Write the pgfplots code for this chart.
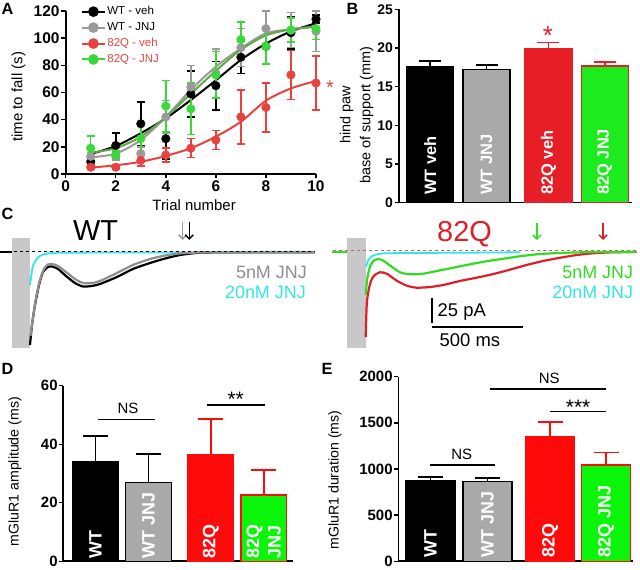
\documentclass[border=0pt]{standalone}
\usepackage{fontspec}
\setmainfont{Liberation Sans}
\usepackage{pgfplots}
\pgfplotsset{compat=1.18}
\usetikzlibrary{arrows.meta}

\definecolor{aRed}{HTML}{E8423F}
\definecolor{aGreen}{HTML}{3AD93A}
\definecolor{aGreenFit}{HTML}{5FA845}
\definecolor{aGray}{HTML}{9A9A9A}
\definecolor{barGray}{HTML}{A9A9A9}
\definecolor{bRed}{HTML}{E81E26}
\definecolor{bGreen}{HTML}{1EEB1E}
\definecolor{dRed}{HTML}{FF0A0A}
\definecolor{dGreen}{HTML}{0AF50A}
\definecolor{trCyan}{HTML}{30E6E6}
\definecolor{trGray}{HTML}{8E8E8E}
\definecolor{trRed}{HTML}{DD2027}
\definecolor{trGreen}{HTML}{30DD20}
\definecolor{artGray}{HTML}{C8C8C8}
\definecolor{dashRed}{HTML}{B07070}

\newcommand{\fs}[1]{\fontsize{#1}{#1}\selectfont}

\pgfplotsset{
  panel/.style={
    scale only axis, clip=false,
    axis x line*=bottom, axis y line*=left,
    axis line style={line width=1.6bp, -},
    major tick style={line width=1.4bp, black},
    tick align=outside, major tick length=4.5bp,
    tick label style={font=\fs{15.5}\bfseries},
    yticklabel style={inner sep=1.5pt},
    xticklabel style={inner sep=2pt},
    /pgf/number format/assume math mode=true,
    /pgf/number format/set thousands separator={},
    label style={font=\fs{15}},
  },
  barpanel/.style={panel, xtick=\empty, ybar, bar shift=0pt, ymin=0},
  eb/.style 2 args={error bars/y dir=plus, error bars/y explicit,
    error bars/error bar style={line width=1.8bp, #1},
    error bars/error mark options={rotate=90, line width=1.8bp, mark size=#2, #1}},
  errA/.style={only marks, mark=*, mark size=4.3bp,
    error bars/y dir=both, error bars/y explicit,
    error bars/error bar style={line width=1.5bp},
    error bars/error mark options={rotate=90, line width=1.5bp, mark size=4bp}},
  fitA/.style={smooth, no marks, line width=2bp},
  trace/.style={smooth, tension=0.4, no marks, line width=2.2bp},
}

\begin{document}
\begin{tikzpicture}
\useasboundingbox (0,0) rectangle (640bp,570bp);

% ---------------- A ----------------
\begin{axis}[panel, at={(65.7bp,396bp)}, width=250.3bp, height=163bp,
  xmin=0, xmax=10, ymin=0, ymax=120,
  xtick={0,2,...,10}, ytick={0,20,...,120},
  xlabel={Trial number}, ylabel={time to fall (s)},
  xlabel style={at={(axis description cs:0.513,-0.19)}, anchor=center},
  ylabel style={at={(axis description cs:-0.189,0.474)}, anchor=center},
  legend style={at={(0.06,1.04)}, anchor=north west, draw=none, fill=none,
    inner sep=0pt, row sep=2pt, font=\fs{11.5},
    nodes={inner sep=1.5pt, text height=8.5pt, text depth=2.5pt}},
  legend cell align=left,
  legend image code/.code={\draw[mark repeat=2, mark phase=2, #1]
    plot coordinates {(0bp,0bp) (11.5bp,0bp) (23bp,0bp)};},
]
% WT - veh
\addplot[fitA, black, forget plot] coordinates {(1,14.7) (2,20.6) (3,30) (4,41) (5,54.5) (6,69) (7,84) (8,96) (9,105) (10,111)};
\addplot[errA, black, forget plot] coordinates {
  (1,9) +- (0,3) (2,21) +- (0,9) (3,37) +- (0,16) (4,26) +- (0,15) (5,59) +- (0,17)
  (6,65) +- (0,18) (7,86) +- (0,12) (8,94) +- (0,13) (9,104) +- (0,12) (10,114) +- (0,3)};
% WT - JNJ
\addplot[fitA, aGray, forget plot] coordinates {(1,12.3) (2,15) (3,25) (4,42) (5,62) (6,79) (7,92.5) (8,103.5) (9,106.5) (10,108.5)};
\addplot[errA, aGray, forget plot] coordinates {
  (1,13) +- (0,3) (2,13) +- (0,3) (3,15) +- (0,5) (4,42) +- (0,12) (5,64) +- (0,16)
  (6,74) +- (0,18) (7,93) +- (0,14) (8,107) +- (0,13) (9,106) +- (0,13) (10,105) +- (0,15)};
% 82Q - JNJ
\addplot[fitA, aGreenFit, forget plot] coordinates {(1,15.7) (2,19) (3,27.5) (4,42) (5,59) (6,76) (7,91.5) (8,102) (9,106.5) (10,108.5)};
\addplot[errA, aGreen, forget plot] coordinates {
  (1,19) +- (0,9) (2,14) +- (0,3) (3,26) +- (0,11) (4,50) +- (0,19) (5,48) +- (0,19)
  (6,73) +- (0,17) (7,99) +- (0,13) (8,94) +- (0,13) (9,106) +- (0,9) (10,107) +- (0,8)};
% 82Q - veh
\addplot[fitA, aRed, forget plot] coordinates {(1,4.7) (2,6.4) (3,9) (4,13.3) (5,19) (6,27.5) (7,38.5) (8,54) (9,63) (10,68.5)};
\addplot[errA, aRed, forget plot] coordinates {
  (1,5) +- (0,1.5) (2,5) +- (0,1.5) (3,10) +- (0,4) (4,14) +- (0,5) (5,19) +- (0,7)
  (6,25) +- (0,7) (7,42) +- (0,20) (8,49) +- (0,18) (9,73) +- (0,18) (10,67) +- (0,20)};

\addlegendimage{black, line width=2bp, mark=*, mark size=4.3bp}
\addlegendentry{WT - veh}
\addlegendimage{aGray, line width=2bp, mark=*, mark size=4.3bp}
\addlegendentry{WT - JNJ}
\addlegendimage{aRed, line width=2bp, mark=*, mark size=4.3bp}
\addlegendentry{\textcolor{aRed}{82Q - veh}}
\addlegendimage{aGreen, line width=2bp, mark=*, mark size=4.3bp}
\addlegendentry{\textcolor{aRed}{82Q - JNJ}}
\end{axis}

% ---------------- B ----------------
\begin{axis}[barpanel, at={(399bp,367.3bp)}, width=233bp, height=193.4bp,
  xmin=0.444, xmax=4.586, ymax=25, ytick={0,5,...,25},
  tick label style={font=\fs{14}\bfseries},
  bar width=47bp,
  ylabel={hind paw\\base of support (mm)},
  ylabel style={align=center, font=\fontsize{14.5}{20}\selectfont,
    at={(axis description cs:-0.1815,0.453)}, anchor=center},
]
\addplot[fill=black, draw=black, line width=1.3bp, eb={black}{11bp}] coordinates {(1,17.6) +- (0,0.7)};
\addplot[fill=barGray, draw=black, line width=1.3bp, eb={black}{11bp}] coordinates {(2,17.2) +- (0,0.55)};
\addplot[fill=bRed, draw=bRed, line width=1.3bp, eb={bRed}{11bp}] coordinates {(3.1,19.95) +- (0,0.75)};
\addplot[fill=bGreen, draw=bRed, line width=1.3bp, eb={bRed}{11bp}] coordinates {(4.1,17.67) +- (0,0.5)};
\node[rotate=90, anchor=west, text=white, font=\fs{16.5}\bfseries, inner sep=0pt] at (axis cs:1,1) {WT veh};
\node[rotate=90, anchor=west, text=white, font=\fs{16.5}\bfseries, inner sep=0pt] at (axis cs:2,1) {WT JNJ};
\node[rotate=90, anchor=west, text=white, font=\fs{16.5}\bfseries, inner sep=0pt] at (axis cs:3.1,1) {82Q veh};
\node[rotate=90, anchor=west, text=white, font=\fs{16.5}\bfseries, inner sep=0pt] at (axis cs:4.1,1) {82Q JNJ};
\end{axis}

% ---------------- C (left, WT) ----------------
\begin{axis}[hide axis, scale only axis, clip=false, at={(0bp,210bp)},
  width=320bp, height=130bp,
  xmin=-164.8, xmax=1593.4, ymin=-111.17, ymax=22.03]
\fill[artGray] (axis cs:-100.5,14.1) rectangle (axis cs:0,-99.2);
\addplot[trCyan, line width=2bp, no marks] coordinates {(-164.8,-0.7) (-100.5,-0.7)};
\addplot[black, line width=2bp, no marks] coordinates {(-164.8,-0.6) (-100.5,-0.6)};
\addplot[trace, trCyan, line width=1.8bp] coordinates {
  (0,-34.3) (9.3,-22.0) (18.1,-13.8) (36.8,-7.7) (54.9,-4.6) (82.4,-2.6)
  (128,-1.5) (201.6,-1.2) (659,-1.0) (1538,-0.8)};
\addplot[trace, black] coordinates {
  (0,-95.8) (11,-75.3) (27.5,-54.8) (49.5,-34.3) (71.4,-21.0) (98.9,-15.9)
  (120.9,-15.4) (153.8,-17.9) (197.8,-25.1) (247.3,-32.3) (291.2,-35.9)
  (340.7,-35.3) (384.6,-33.3) (478,-26.1) (565.9,-17.9) (659.3,-11.8)
  (741.8,-7.2) (824.2,-3.6) (934.1,-1.2) (1098.9,-0.8) (1565.9,-0.7)};
\addplot[trace, trGray] coordinates {
  (2.7,-86.6) (16.5,-68.1) (33,-47.6) (55,-29.2) (76.9,-17.9) (98.9,-13.3)
  (120.9,-12.8) (153.8,-14.9) (197.8,-21.0) (247.3,-28.2) (291.2,-32.3)
  (340.7,-32.3) (384.6,-30.2) (478,-22.0) (565.9,-13.8) (659.3,-7.7)
  (741.8,-4.1) (824.2,-2.0) (934.1,-1.0) (1098.9,-0.7) (1565.9,-0.5)};
\draw[black, line width=1bp, dash pattern=on 3bp off 3bp] (axis cs:-155.5,0.2) -- (axis cs:1566,0.2);
\draw[aGray, line width=1.5bp, -{Straight Barb[length=4bp,width=8bp]}] (axis cs:839,30.2) -- (axis cs:839,11.8);
\draw[black, line width=1.5bp, -{Straight Barb[length=4bp,width=8bp]}] (axis cs:875,30.2) -- (axis cs:875,11.8);
\end{axis}

% ---------------- C (right, 82Q) ----------------
\begin{axis}[hide axis, scale only axis, clip=false, at={(320bp,210bp)},
  width=320bp, height=130bp,
  xmin=-251.1, xmax=1507.1, ymin=-111.17, ymax=22.03]
\fill[artGray] (axis cs:-104.4,14.1) rectangle (axis cs:0,-99.2);
\addplot[trRed, line width=2bp, no marks] coordinates {(-186.8,-0.6) (-104.4,-0.6)};
\addplot[trGreen, line width=2bp, no marks] coordinates {(-186.8,-0.4) (-104.4,-0.4)};
\addplot[trace, trRed] coordinates {
  (0,-87.6) (5.5,-54.8) (14.3,-41.2) (27.5,-30.9) (45.6,-24.8) (78.6,-21.3)
  (115.4,-22.7) (170.3,-29.9) (225.3,-35.0) (280.2,-37.1) (353.3,-36.4)
  (426.4,-34.3) (518.1,-30.2) (609.9,-26.8) (701.1,-23.1) (792.9,-18.6)
  (884.6,-13.8) (975.8,-9.7) (1067.6,-6.4) (1159.3,-3.6) (1250.5,-1.8)
  (1360.4,-0.8) (1489,-0.5)};
\addplot[trace, trGreen] coordinates {
  (0,-44.6) (8.8,-27.5) (23.6,-15.6) (41.8,-9.7) (69.2,-7.7) (96.7,-9.4)
  (142.9,-15.6) (188.5,-21.3) (243.4,-23.4) (316.5,-22.7) (390.1,-20.0)
  (481.3,-16.6) (573.1,-13.1) (664.8,-10.0) (756,-7.4) (847.8,-4.9)
  (939.6,-2.9) (1030.8,-1.8) (1214.3,-0.7) (1489,-0.4)};
\addplot[trace, trCyan, line width=1.8bp] coordinates {
  (1.6,-15.6) (14.3,-8.7) (33,-4.9) (60.4,-2.9) (115.4,-1.8) (298.4,-1.5)
  (573.1,-1.2) (847.8,-0.8)};
\draw[dashRed, line width=1bp, dash pattern=on 3bp off 3bp] (axis cs:-179,0.8) -- (axis cs:1491,0.8);
\draw[trGreen, line width=1.5bp, -{Straight Barb[length=4bp,width=8bp]}] (axis cs:941,29.2) -- (axis cs:941,11.8);
\draw[trRed, line width=1.5bp, -{Straight Barb[length=4bp,width=8bp]}] (axis cs:1304,29.2) -- (axis cs:1304,11.8);
% scale bar: 25 pA, 500 ms
\draw[black, line width=1.8bp] (axis cs:366,-47.95) -- (axis cs:366,-72.95);
\draw[black, line width=1.8bp] (axis cs:362.6,-77.7) -- (axis cs:862.6,-77.7);
\end{axis}

% ---------------- D ----------------
\begin{axis}[barpanel, at={(63.3bp,8.7bp)}, width=229.7bp, height=175.6bp,
  xmin=0.391, xmax=4.733, ymax=60, ytick={0,20,40,60},
  tick label style={font=\fs{15}\bfseries},
  yticklabel style={inner sep=1pt},
  bar width=45.5bp,
  ylabel={mGluR1 amplitude (ms)},
  ylabel style={font=\fs{14.2}, at={(axis description cs:-0.21,0.51)}, anchor=center},
]
\addplot[fill=black, draw=black, line width=1.3bp, eb={black}{12.5bp}] coordinates {(1,34.1) +- (0,8.7)};
\addplot[fill=barGray, draw=black, line width=1.3bp, eb={black}{12.5bp}] coordinates {(2,27.0) +- (0,9.6)};
\addplot[fill=dRed, draw=dRed, line width=1.3bp, eb={dRed}{12.5bp}] coordinates {(3.18,36.6) +- (0,12.0)};
\addplot[fill=dGreen, draw=dRed, line width=1.3bp, eb={dRed}{12.5bp}] coordinates {(4.18,22.7) +- (0,8.6)};
\node[rotate=90, anchor=west, text=white, font=\fs{18}\bfseries, inner sep=0pt] at (axis cs:1,0.8) {WT};
\node[rotate=90, anchor=west, text=white, font=\fs{18}\bfseries, inner sep=0pt] at (axis cs:2,0.8) {WT JNJ};
\node[rotate=90, anchor=west, text=white, font=\fs{18}\bfseries, inner sep=0pt] at (axis cs:3.18,0.8) {82Q};
\node[rotate=90, anchor=west, text=white, font=\fontsize{18}{21.7}\selectfont\bfseries, inner sep=0pt, align=left] at (axis cs:4.18,0.8) {82Q\\JNJ};
\draw[line width=1.5bp] (axis cs:1.047,48.4) -- (axis cs:2.125,48.4);
\node[anchor=base, font=\fs{15}, inner sep=0pt] at (axis cs:1.614,50.4) {NS};
\draw[line width=1.5bp] (axis cs:3.107,53.4) -- (axis cs:4.204,53.4);
\node[anchor=base, font=\fs{21}, inner sep=0pt] at (axis cs:3.65,52.8) {**};
\end{axis}

% ---------------- E ----------------
\begin{axis}[barpanel, at={(398.3bp,8.7bp)}, width=234.7bp, height=184.6bp,
  xmin=0.435, xmax=4.553, ymax=2000, ytick={0,500,1000,1500,2000},
  tick label style={font=\fs{15}\bfseries},
  yticklabel style={inner sep=1pt},
  bar width=49bp,
  ylabel={mGluR1 duration (ms)},
  ylabel style={font=\fs{14.2}, at={(axis description cs:-0.27,0.44)}, anchor=center},
]
\addplot[fill=black, draw=black, line width=1.3bp, eb={black}{12.5bp}] coordinates {(1,878) +- (0,36)};
\addplot[fill=barGray, draw=black, line width=1.3bp, eb={black}{12.5bp}] coordinates {(2,864) +- (0,40)};
\addplot[fill=dRed, draw=dRed, line width=1.3bp, eb={dRed}{12.5bp}] coordinates {(3.1,1346) +- (0,161)};
\addplot[fill=dGreen, draw=dRed, line width=1.3bp, eb={dRed}{12.5bp}] coordinates {(4.08,1043) +- (0,136)};
\node[rotate=90, anchor=west, text=white, font=\fs{18}\bfseries, inner sep=0pt] at (axis cs:1,40) {WT};
\node[rotate=90, anchor=west, text=white, font=\fs{18}\bfseries, inner sep=0pt] at (axis cs:2,40) {WT JNJ};
\node[rotate=90, anchor=west, text=white, font=\fs{18}\bfseries, inner sep=0pt] at (axis cs:3.1,40) {82Q};
\node[rotate=90, anchor=west, text=white, font=\fs{18}\bfseries, inner sep=0pt] at (axis cs:4.08,40) {82Q JNJ};
\draw[line width=1.5bp] (axis cs:0.991,1046) -- (axis cs:2.132,1046);
\node[anchor=base, font=\fs{15}, inner sep=0pt] at (axis cs:1.547,1107) {NS};
\draw[line width=1.5bp] (axis cs:2.044,1868) -- (axis cs:4.079,1868);
\node[anchor=base, font=\fs{15}, inner sep=0pt] at (axis cs:3.084,1922) {NS};
\draw[line width=1.5bp] (axis cs:3.096,1625) -- (axis cs:4.079,1625);
\node[anchor=base, font=\fs{21}, inner sep=0pt] at (axis cs:3.59,1593) {***};
\end{axis}

% ---------------- annotations ----------------
\node[anchor=base west, inner sep=0pt, font=\fs{16.3}\bfseries] at (1.5bp,555bp) {A};
\node[anchor=base west, inner sep=0pt, font=\fs{16.3}\bfseries] at (346.5bp,555bp) {B};
\node[anchor=base west, inner sep=0pt, font=\fs{16.3}\bfseries] at (1.5bp,350bp) {C};
\node[anchor=base west, inner sep=0pt, font=\fs{16.3}\bfseries] at (1.5bp,195bp) {D};
\node[anchor=base west, inner sep=0pt, font=\fs{16.3}\bfseries] at (321.5bp,195bp) {E};
\node[anchor=base, inner sep=0pt, font=\fs{20}, text=aRed] at (330bp,475.6bp) {*};
\node[anchor=base, inner sep=0pt, font=\fs{26}, text=bRed] at (548bp,525.2bp) {*};
\node[anchor=base west, inner sep=0pt, font=\fs{29}] at (73bp,329bp) {WT};
\node[anchor=base west, inner sep=0pt, font=\fs{29}, text=trRed] at (437bp,328.3bp) {82Q};
\node[anchor=base east, inner sep=0pt, font=\fs{18}, text=trGray] at (307bp,291.7bp) {5nM JNJ};
\node[anchor=base east, inner sep=0pt, font=\fs{18}, text=trCyan] at (306bp,271.7bp) {20nM JNJ};
\node[anchor=base east, inner sep=0pt, font=\fs{18}, text=trGreen] at (633.3bp,291.7bp) {5nM JNJ};
\node[anchor=base east, inner sep=0pt, font=\fs{18}, text=trCyan] at (633.3bp,271.7bp) {20nM JNJ};
\node[anchor=base west, inner sep=0pt, font=\fs{18.5}] at (437.5bp,253.3bp) {25 pA};
\node[anchor=base west, inner sep=0pt, font=\fs{18.5}] at (439.5bp,223.3bp) {500 ms};
\end{tikzpicture}
\end{document}
